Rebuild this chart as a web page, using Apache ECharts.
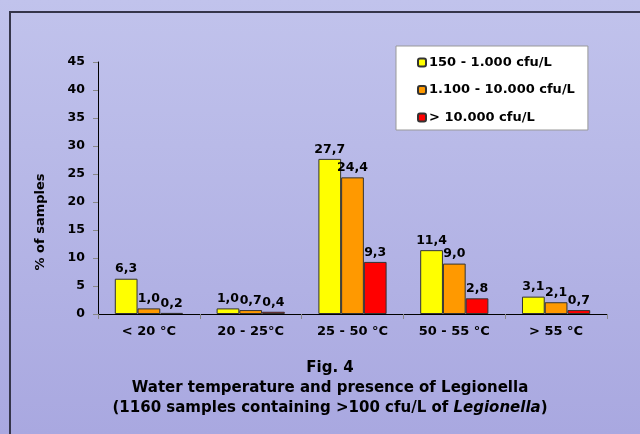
<!DOCTYPE html>
<html>
<head>
<meta charset="utf-8">
<script src="https://cdn.jsdelivr.net/npm/echarts@6/dist/echarts.min.js"></script>
<style>
html,body{margin:0;padding:0;}
#c{width:640px;height:434px;}
</style>
</head>
<body>
<div id="c"></div>
<script>
var categories = ['< 20 °C', '20 - 25°C', '25 - 50 °C', '50 - 55 °C', '> 55 °C'];
var seriesNames = ['150 - 1.000 cfu/L', '1.100 - 10.000 cfu/L', '> 10.000 cfu/L'];
var low = [6.3, 1.0, 27.7, 11.4, 3.1];
var mid = [1.0, 0.7, 24.4, 9.0, 2.1];
var high = [0.2, 0.4, 9.3, 2.8, 0.7];
var colors = ['#ffff00', '#ff9900', '#ff0000'];

var FONT = '"DejaVu Sans", Verdana, sans-serif';
var chart = echarts.init(document.getElementById('c'));

function mkSeries(name, data, color) {
  return {
    name: name,
    type: 'bar',
    data: data,
    barGap: '0%',
    barCategoryGap: '33%',
    itemStyle: { color: color, borderColor: '#333', borderWidth: 1 },
    label: {
      show: true,
      position: 'top',
      distance: 3,
      color: '#000',
      fontFamily: FONT,
      fontWeight: 'bold',
      fontSize: 12.5,
      formatter: function (p) { return p.value.toFixed(1).replace('.', ','); }
    }
  };
}

chart.setOption({
  backgroundColor: {
    type: 'linear', x: 0, y: 0, x2: 0, y2: 1,
    colorStops: [{ offset: 0, color: '#c1c3ec' }, { offset: 1, color: '#a9a8e0' }]
  },
  animation: false,
  grid: { left: 98, right: 33, top: 62, bottom: 120 },
  legend: {
    orient: 'vertical',
    left: 396,
    top: 46,
    backgroundColor: '#ffffff',
    borderColor: '#999',
    borderWidth: 1,
    padding: [10, 13, 6, 21],
    itemWidth: 8,
    itemHeight: 8,
    itemGap: 14.5,
    textStyle: { fontFamily: FONT, fontWeight: 'bold', fontSize: 13, color: '#000', padding: [0, 0, 0, -2] },
    data: seriesNames
  },
  xAxis: {
    type: 'category',
    data: categories,
    axisLine: { lineStyle: { color: '#000', width: 1 } },
    axisTick: { show: true, length: 5, lineStyle: { color: '#888' } },
    axisLabel: { color: '#000', fontFamily: FONT, fontWeight: 'bold', fontSize: 13, margin: 11 }
  },
  yAxis: {
    type: 'value',
    min: 0, max: 45, interval: 5,
    axisLine: { show: true, lineStyle: { color: '#000', width: 1 } },
    axisTick: { show: true, length: 5, lineStyle: { color: '#888' } },
    splitLine: { show: false },
    axisLabel: { color: '#000', fontFamily: FONT, fontWeight: 'bold', fontSize: 12.5, margin: 13 }
  },
  series: [
    mkSeries(seriesNames[0], low, colors[0]),
    mkSeries(seriesNames[1], mid, colors[1]),
    mkSeries(seriesNames[2], high, colors[2])
  ],
  graphic: [
    {
      type: 'rect', silent: true, z: -1,
      shape: { x: 10, y: 12, width: 700, height: 500 },
      style: { fill: 'none', stroke: '#35354a', lineWidth: 2 }
    },
    {
      type: 'text', x: 41, y: 222, rotation: Math.PI / 2,
      style: { text: '% of samples', fill: '#000', font: 'bold 13px ' + FONT, align: 'center', verticalAlign: 'middle' }
    },
    {
      type: 'text', x: 330, y: 368,
      style: { text: 'Fig. 4', fill: '#000', font: 'bold 15px ' + FONT, align: 'center', verticalAlign: 'middle' }
    },
    {
      type: 'text', x: 330, y: 388,
      style: { text: 'Water temperature and presence of Legionella', fill: '#000', font: 'bold 15px ' + FONT, align: 'center', verticalAlign: 'middle' }
    },
    {
      type: 'text', x: 330, y: 408,
      style: {
        text: '{b|(1160 samples containing >100 cfu/L of }{i|Legionella}{b|)}',
        align: 'center', verticalAlign: 'middle',
        rich: {
          b: { fill: '#000', fontFamily: FONT, fontWeight: 'bold', fontSize: 15 },
          i: { fill: '#000', fontFamily: FONT, fontWeight: 'bold', fontStyle: 'italic', fontSize: 15 }
        }
      }
    }
  ]
});
</script>
</body>
</html>
